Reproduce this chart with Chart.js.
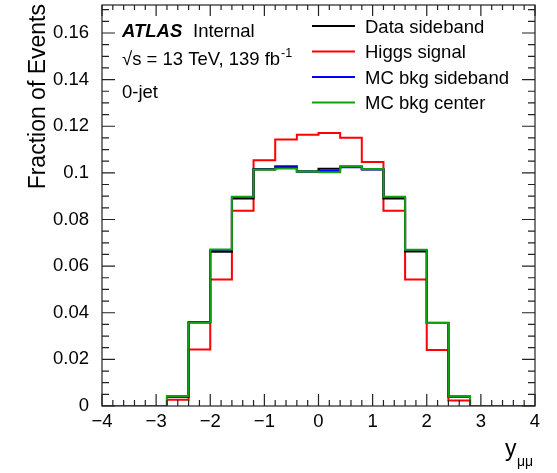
<!DOCTYPE html>
<html>
<head>
<meta charset="utf-8">
<script src="https://cdn.jsdelivr.net/npm/chart.js@4/dist/chart.umd.min.js"></script>
<style>
html,body{margin:0;padding:0;background:#fff;}
canvas{display:block;}
</style>
</head>
<body>
<canvas id="c" width="557" height="473"></canvas>
<script>
// ---- data ----
const binEdges = [-2.8,-2.4,-2.0,-1.6,-1.2,-0.8,-0.4,0.0,0.4,0.8,1.2,1.6,2.0,2.4,2.8];
const dataSideband = [0.0040,0.0358,0.0662,0.0890,0.1014,0.1022,0.1006,0.1018,0.1027,0.1015,0.0890,0.0663,0.0356,0.0040];
const higgsSignal  = [0.0027,0.0242,0.0543,0.0837,0.1054,0.1143,0.1163,0.1171,0.1151,0.1047,0.0837,0.0543,0.0240,0.0024];
const mcBkgSideband= [0.0042,0.0360,0.0668,0.0895,0.1017,0.1028,0.1006,0.1008,0.1024,0.1014,0.0895,0.0668,0.0357,0.0041];
const mcBkgCenter  = [0.0043,0.0358,0.0671,0.0897,0.1014,0.1019,0.1006,0.1003,0.1027,0.1017,0.0898,0.0670,0.0356,0.0041];
const seriesNames = ['Data sideband','Higgs signal','MC bkg sideband','MC bkg center'];
const xMin = -4, xMax = 4;
const yMin = 0, yMax = 0.172;
const xTickValues = [-4,-3,-2,-1,0,1,2,3,4];
const xTickLabels = ['\u22124','\u22123','\u22122','\u22121','0','1','2','3','4'];
const yTickValues = [0,0.02,0.04,0.06,0.08,0.1,0.12,0.14,0.16];
const yTickLabels = ['0','0.02','0.04','0.06','0.08','0.1','0.12','0.14','0.16'];

const colors = ['#000000','#ff0000','#0000ff','#10a010'];
const FONT = '"Liberation Sans", Arial, Helvetica, sans-serif';

function histPoints(vals){
  const pts = [{x:xMin, y:0}];
  for (let i=0;i<vals.length;i++) pts.push({x:binEdges[i], y:vals[i]});
  pts.push({x:binEdges[binEdges.length-1], y:0});
  pts.push({x:xMax, y:0});
  return pts;
}

const allVals = [dataSideband, higgsSignal, mcBkgSideband, mcBkgCenter];
const drawOrder = [2,4,3,1];
const datasets = allVals.map((v,i)=>({
  label: seriesNames[i],
  data: histPoints(v),
  borderColor: colors[i],
  borderWidth: 2,
  pointRadius: 0,
  fill: false,
  stepped: true,
  order: drawOrder[i]
}));

const framePlugin = {
  id: 'frame',
  afterDatasetsDraw(chart){
    const ctx = chart.ctx;
    const a = chart.chartArea;
    const xs = chart.scales.x, ys = chart.scales.y;
    ctx.save();
    ctx.strokeStyle = '#222';
    ctx.lineWidth = 1.2;
    ctx.strokeRect(a.left, a.top, a.right-a.left, a.bottom-a.top);
    ctx.beginPath();
    for (let k=0;k<=40;k++){
      const v = xMin + k*0.2;
      const px = xs.getPixelForValue(v);
      const major = (k%5===0);
      const L = major ? 12 : 6;
      const Lt = major ? 11 : 5;
      ctx.moveTo(px, a.bottom); ctx.lineTo(px, a.bottom - L);
      ctx.moveTo(px, a.top); ctx.lineTo(px, a.top + Lt);
    }
    for (let k=0; ; k++){
      const v = yMin + k*0.005;
      if (v > yMax + 1e-9) break;
      const py = ys.getPixelForValue(v);
      const major = (k%4===0);
      const L = major ? 13 : 7;
      ctx.moveTo(a.left, py); ctx.lineTo(a.left + L, py);
      ctx.moveTo(a.right, py); ctx.lineTo(a.right - L, py);
    }
    ctx.stroke();
    ctx.restore();
  },
  afterDraw(chart){
    const ctx = chart.ctx;
    ctx.save();
    ctx.fillStyle = '#000';
    ctx.textBaseline = 'alphabetic';
    ctx.font = 'italic bold 18.5px ' + FONT;
    ctx.textAlign = 'left';
    ctx.fillText('ATLAS', 122, 37);
    ctx.font = '18.5px ' + FONT;
    ctx.fillText('Internal', 193, 37);
    const s1 = '\u221As = 13 TeV, 139 fb';
    ctx.fillText(s1, 122, 65);
    const w1 = ctx.measureText(s1).width;
    ctx.font = '12.5px ' + FONT;
    ctx.fillText('-1', 122 + w1 + 1, 57);
    ctx.font = '18.5px ' + FONT;
    ctx.fillText('0-jet', 122, 97.5);
    const legY = [26, 51.5, 77, 102.5];
    for (let i=0;i<seriesNames.length;i++){
      ctx.strokeStyle = colors[i];
      ctx.lineWidth = 2;
      ctx.beginPath();
      ctx.moveTo(312, legY[i]); ctx.lineTo(355, legY[i]);
      ctx.stroke();
      ctx.fillText(seriesNames[i], 365, legY[i] + 6.6);
    }
    ctx.save();
    ctx.translate(45, 4);
    ctx.rotate(-Math.PI/2);
    ctx.textAlign = 'right';
    ctx.font = '23px ' + FONT;
    ctx.fillText('Fraction of Events', 0, 0);
    ctx.restore();
    ctx.textAlign = 'left';
    ctx.font = '23px ' + FONT;
    ctx.fillText('y', 505, 456);
    ctx.font = '14px ' + FONT;
    ctx.fillText('\u03BC\u03BC', 517, 466);
    ctx.restore();
  }
};

new Chart(document.getElementById('c'), {
  type: 'line',
  data: { datasets },
  options: {
    responsive: false,
    animation: false,
    devicePixelRatio: 1,
    layout: { padding: { top: 5, right: 22, left: 0, bottom: 0 } },
    plugins: { legend: { display: false }, tooltip: { enabled: false } },
    scales: {
      x: {
        type: 'linear', min: xMin, max: xMax, bounds: 'data',
        grid: { display: false, drawTicks: false },
        border: { display: false },
        afterBuildTicks(s){ s.ticks = xTickValues.map(v=>({value:v})); },
        afterFit(s){ s.height = 67; s.paddingLeft = 0; s.paddingRight = 0; },
        ticks: {
          autoSkip: false, maxRotation: 0, padding: 5,
          color: '#000', font: { family: FONT, size: 18.5 },
          callback: (v) => { const i = xTickValues.indexOf(v); return i>=0 ? xTickLabels[i] : ''; }
        }
      },
      y: {
        type: 'linear', min: yMin, max: yMax, bounds: 'data',
        grid: { display: false, drawTicks: false },
        border: { display: false },
        afterBuildTicks(s){ s.ticks = yTickValues.map(v=>({value:v})); },
        afterFit(s){ s.width = 102; s.paddingTop = 0; s.paddingBottom = 0; },
        ticks: {
          autoSkip: false, padding: 13,
          color: '#000', font: { family: FONT, size: 18.5 },
          callback: (v) => { const i = yTickValues.findIndex(t=>Math.abs(t-v)<1e-9); return i>=0 ? yTickLabels[i] : ''; }
        }
      }
    }
  },
  plugins: [framePlugin]
});
</script>
</body>
</html>
